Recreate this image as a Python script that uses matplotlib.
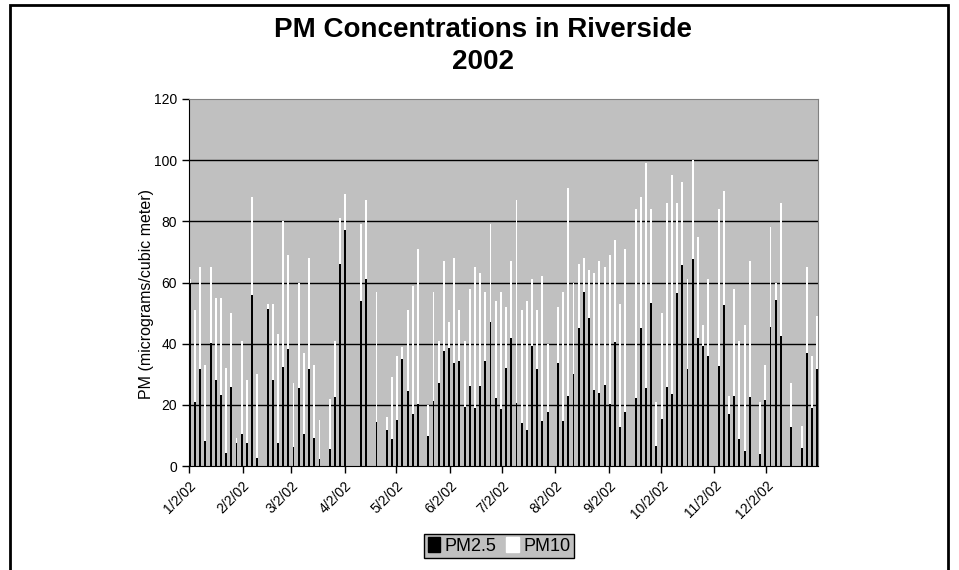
import pandas as pd
import matplotlib
matplotlib.use('Agg')
import matplotlib.pyplot as plt
from matplotlib.patches import Rectangle, Patch

# ==========================================
# DATA: one sample every 3 days, starting 1/2/02 (None = no sample)
# ==========================================
START_DATE = '2002-01-02'

pm25 = [59.7, 21.0, 31.7, 8.2, 40.3, 28.1, 23.2, 4.1, 25.7, 7.6,
        10.3, 7.4, 55.9, 2.6, None, 51.2, 28.1, 7.4, 32.4, 38.3,
        6.3, 25.6, 10.6, 31.7, 9.3, 2.3, None, 5.4, 22.4, 66.1,
        77.3, None, None, 54.0, 61.3, None, 14.5, None, 11.8, 8.9,
        15.0, 34.9, 24.4, 16.9, 20.4, None, 9.9, 21.4, 27.2, 37.7,
        38.5, 33.6, 34.3, 19.3, 26.0, 19.1, 26.3, 34.4, 47.1, 22.3,
        18.5, 32.2, 41.7, 20.5, 13.9, 11.8, 39.2, 31.7, 14.8, 17.5,
        None, 33.6, 14.8, 23.0, 30.0, 45.2, 57.0, 48.5, 24.9, 24.0,
        26.5, 20.3, 40.4, 12.9, 17.5, None, 22.2, 45.2, 25.4, 53.4,
        6.4, 15.3, 25.9, 23.4, 56.6, 65.7, 31.8, 67.6, 42.0, 39.3,
        35.9, None, 32.7, 52.6, 16.9, 23.0, 8.7, 4.9, 22.4, None,
        3.9, 21.5, 45.3, 54.2, 42.6, None, 12.7, None, 5.8, 37.0,
        19.0, 31.7]

pm10 = [61, 51, 65, 33, 65, 55, 55, 32, 50, 9,
        41, 28, 88, 30, None, 53, 53, 43, 80, 69,
        27, 60, 37, 68, 33, 15, None, 22, 41, 81,
        89, None, None, 79, 87, None, 57, None, 16, 29,
        36, 39, 51, 59, 71, None, 20, 57, 41, 67,
        47, 68, 51, 41, 58, 65, 63, 57, 79, 54,
        57, 52, 67, 87, 51, 54, 61, 51, 62, 40,
        None, 52, 57, 91, 60, 66, 68, 64, 63, 67,
        65, 69, 74, 53, 71, None, 84, 88, 99, 84,
        21, 50, 86, 95, 86, 93, 61, 100, 75, 46,
        61, None, 84, 90, 23, 58, 41, 46, 67, None,
        21, 33, 78, 60, 86, None, 27, None, 13, 65,
        36, 49]

tick_labels = ['1/2/02', '2/2/02', '3/2/02', '4/2/02', '5/2/02', '6/2/02',
               '7/2/02', '8/2/02', '9/2/02', '10/2/02', '11/2/02', '12/2/02']

# ==========================================
# PREP
# ==========================================
sample_dates = pd.date_range(START_DATE, periods=len(pm25), freq='3D')
day_num = (sample_dates - sample_dates[0]).days.values

df = pd.DataFrame({'day': day_num, 'pm25': pm25, 'pm10': pm10})
d10 = df.dropna(subset=['pm10'])
d25 = df.dropna(subset=['pm25'])

# ticks sit on the category boundary of the 2nd of each month
tick_days = [(pd.Timestamp(2002, m, 2) - sample_dates[0]).days - 0.5 for m in range(1, 13)]
last_day = (pd.Timestamp('2002-12-31') - sample_dates[0]).days

# ==========================================
# PLOT
# ==========================================
plt.rcParams['font.family'] = ['Liberation Sans', 'DejaVu Sans']

fig = plt.figure(figsize=(9.59, 5.7), dpi=100)
ax = fig.add_axes([189 / 959, 104 / 570, 629 / 959, 367 / 570])
ax.set_facecolor('#C0C0C0')

for y in range(20, 120, 20):
    ax.axhline(y, color='black', linewidth=1, zorder=1)

ax.bar(d10['day'], d10['pm10'], width=1.1, color='white', linewidth=0, zorder=2)
ax.bar(d25['day'], d25['pm25'], width=1.1, color='black', linewidth=0, zorder=3)

ax.set_xlim(-0.5, last_day + 0.5)
ax.set_ylim(0, 120)
ax.set_yticks(range(0, 121, 20))
ax.set_xticks(tick_days)
ax.set_xticklabels(tick_labels, rotation=45, ha='right', rotation_mode='anchor')
ax.tick_params(axis='both', direction='out', length=5, width=1, color='black', labelsize=10)
ax.tick_params(axis='x', pad=4)

for side in ['top', 'right']:
    ax.spines[side].set_color('#808080')
for side in ['left', 'bottom']:
    ax.spines[side].set_color('black')

fig.text(146 / 959, 1 - 294 / 570, 'PM (micrograms/cubic meter)', rotation=90,
         ha='center', va='center', fontsize=11.5)

title_font = dict(ha='center', va='center', fontsize=20, fontweight='bold')
fig.text(483 / 959, 1 - 30 / 570, 'PM Concentrations in Riverside', **title_font)
fig.text(483 / 959, 1 - 62 / 570, '2002', **title_font)

handles = [Patch(facecolor='black', edgecolor='black', label='PM2.5'),
           Patch(facecolor='white', edgecolor='white', label='PM10')]
leg = fig.legend(handles=handles, loc='center', bbox_to_anchor=(499 / 959, 1 - 546 / 570),
                 ncol=2, fontsize=13, handlelength=0.7, handleheight=0.9, handletextpad=0.25,
                 columnspacing=0.5, borderpad=0.2, borderaxespad=0.3, fancybox=False,
                 framealpha=1)
leg.get_frame().set_facecolor('#C0C0C0')
leg.get_frame().set_edgecolor('black')
leg.get_frame().set_linewidth(1)

# outer chart border
fig.patches.append(Rectangle((10 / 959, -0.05), 938 / 959, 1.05 - 5 / 570, fill=False,
                             edgecolor='black', linewidth=2, transform=fig.transFigure,
                             figure=fig, clip_on=False))

fig.savefig('out.png', dpi=100)
